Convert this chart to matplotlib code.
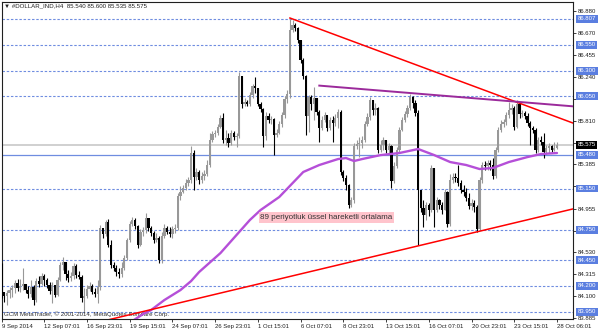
import matplotlib
matplotlib.use('Agg')
import matplotlib.pyplot as plt
from matplotlib.transforms import blended_transform_factory

plt.rcParams['font.family'] = ['Liberation Sans', 'DejaVu Sans']

# H4 bars, 9 Sep 2014 .. 28 Oct 2014
first_open = 84.277
closes = [84.141, 84.102, 84.131, 84.160, 84.180, 84.229, 84.180, 84.199, 84.219, 84.160,
          84.121, 84.190, 84.063, 84.248, 84.219, 84.297, 84.258, 84.209, 84.151, 84.209,
          84.112, 84.258, 84.404, 84.433, 84.316, 84.277, 84.297, 84.394, 84.307, 84.287,
          84.082, 84.102, 84.170, 84.199, 84.141, 84.121, 84.190, 84.765, 84.706, 84.823,
          84.599, 84.404, 84.375, 84.336, 84.316, 84.375, 84.472, 84.648, 84.804, 84.843,
          84.784, 84.599, 84.726, 84.745, 84.862, 84.765, 84.716, 84.648, 84.667, 84.453,
          84.687, 84.765, 84.726, 84.706, 84.755, 84.765, 85.077, 85.116, 85.155, 85.203,
          85.233, 85.496, 85.262, 85.311, 85.233, 85.272, 85.291, 85.379, 85.622, 85.681,
          85.691, 85.749, 85.837, 85.622, 85.642, 85.593, 85.691, 85.652, 85.661, 86.246,
          85.973, 85.993, 85.973, 86.061, 86.149, 86.129, 85.973, 85.925, 85.661, 85.856,
          85.817, 85.827, 85.671, 85.691, 85.778, 85.866, 86.022, 86.071, 86.695, 86.743,
          86.714, 86.597, 86.402, 86.246, 85.856, 86.042, 85.973, 86.032, 85.895, 85.739,
          85.817, 85.866, 85.739, 85.817, 85.788, 85.837, 85.895, 85.311, 85.252, 85.184,
          84.989, 85.038, 85.564, 85.583, 85.593, 85.622, 85.778, 85.847, 86.012, 85.915,
          85.934, 85.525, 85.574, 85.622, 85.525, 85.564, 85.223, 85.369, 85.525, 85.720,
          85.817, 85.876, 85.934, 86.042, 85.983, 85.886, 85.135, 84.960, 84.891, 84.989,
          84.940, 85.350, 84.940, 85.038, 84.989, 84.940, 85.116, 84.804, 85.233, 85.262,
          85.252, 85.203, 85.135, 85.116, 85.057, 84.979, 85.008, 84.969, 84.755, 85.233,
          85.379, 85.369, 85.398, 85.379, 85.272, 85.525, 85.720, 85.778, 85.798, 85.866,
          85.915, 85.934, 85.749, 85.973, 85.876, 85.886, 85.856, 85.788, 85.739, 85.720,
          85.525, 85.622, 85.603, 85.505, 85.544, 85.564, 85.525, 85.540, 85.575]
highs = [84.424, 84.141, 84.160, 84.190, 84.209, 84.258, 84.268, 84.268, 84.375, 84.219,
         84.199, 84.258, 84.209, 84.277, 84.297, 84.326, 84.316, 84.277, 84.238, 84.238,
         84.209, 84.287, 84.433, 84.482, 84.433, 84.355, 84.336, 84.424, 84.414, 84.346,
         84.307, 84.180, 84.209, 84.238, 84.219, 84.180, 84.258, 84.794, 84.745, 84.843,
         84.852, 84.648, 84.433, 84.404, 84.375, 84.433, 84.502, 84.667, 84.833, 84.872,
         84.862, 84.794, 84.755, 84.774, 84.911, 84.862, 84.784, 84.735, 84.716, 84.687,
         84.726, 84.804, 84.784, 84.774, 84.784, 84.804, 85.106, 85.174, 85.184, 85.242,
         85.262, 85.564, 85.525, 85.350, 85.330, 85.311, 85.330, 85.427, 85.691, 85.710,
         85.720, 85.778, 85.866, 85.886, 85.720, 85.691, 85.720, 85.710, 85.691, 86.285,
         86.246, 86.032, 86.012, 86.090, 86.168, 86.236, 86.129, 85.993, 85.934, 85.895,
         85.886, 85.856, 85.837, 85.730, 85.808, 85.895, 86.051, 86.110, 86.812, 86.792,
         86.763, 86.724, 86.597, 86.422, 86.256, 86.061, 86.061, 86.139, 86.032, 85.915,
         85.856, 85.895, 85.866, 85.847, 85.856, 85.876, 85.925, 85.915, 85.330, 85.281,
         85.194, 85.067, 85.593, 85.622, 85.652, 85.661, 85.808, 85.886, 86.042, 86.012,
         85.983, 85.944, 85.622, 85.652, 85.622, 85.593, 85.574, 85.408, 85.554, 85.749,
         85.847, 85.905, 85.964, 86.071, 86.051, 86.012, 85.915, 85.135, 85.038, 85.018,
         85.008, 85.379, 85.350, 85.067, 85.047, 85.018, 85.145, 85.125, 85.291, 85.301,
         85.301, 85.379, 85.233, 85.184, 85.155, 85.106, 85.047, 85.038, 84.989, 85.262,
         85.408, 85.418, 85.427, 85.427, 85.447, 85.554, 85.749, 85.817, 85.827, 85.895,
         85.993, 85.973, 85.954, 86.012, 85.983, 85.915, 85.905, 85.886, 85.808, 85.759,
         85.739, 85.652, 85.661, 85.691, 85.574, 85.593, 85.574, 85.603, 85.600]
lows = [84.082, 84.043, 84.014, 84.082, 84.092, 84.131, 84.151, 84.141, 84.160, 84.131,
        84.082, 84.092, 84.014, 84.043, 84.190, 84.209, 84.199, 84.180, 84.121, 84.034,
        84.092, 84.102, 84.248, 84.355, 84.258, 84.238, 84.248, 84.268, 84.277, 84.268,
        84.043, 83.936, 84.082, 84.151, 84.121, 84.092, 84.034, 84.160, 84.667, 84.687,
        84.580, 84.375, 84.346, 84.297, 84.277, 84.287, 84.355, 84.453, 84.628, 84.784,
        84.755, 84.570, 84.589, 84.687, 84.716, 84.735, 84.687, 84.618, 84.628, 84.424,
        84.424, 84.667, 84.706, 84.677, 84.667, 84.716, 84.745, 85.038, 85.106, 85.135,
        85.174, 85.203, 85.135, 85.233, 85.194, 85.203, 85.233, 85.272, 85.359, 85.603,
        85.652, 85.671, 85.739, 85.593, 85.574, 85.554, 85.574, 85.622, 85.554, 85.642,
        85.934, 85.954, 85.954, 85.954, 86.032, 86.081, 85.954, 85.895, 85.554, 85.622,
        85.788, 85.778, 85.476, 85.652, 85.681, 85.749, 85.837, 85.983, 86.032, 86.675,
        86.685, 86.568, 86.373, 86.217, 85.671, 85.700, 85.915, 85.817, 85.866, 85.603,
        85.720, 85.798, 85.710, 85.720, 85.603, 85.759, 85.739, 85.281, 85.223, 85.135,
        84.960, 84.969, 85.008, 85.535, 85.457, 85.544, 85.603, 85.759, 85.817, 85.866,
        85.866, 85.496, 85.505, 85.525, 85.496, 85.476, 85.155, 85.203, 85.350, 85.505,
        85.710, 85.798, 85.847, 85.915, 85.934, 85.856, 84.599, 84.921, 84.774, 84.843,
        84.882, 84.921, 84.774, 84.921, 84.950, 84.901, 84.940, 84.774, 84.784, 85.203,
        85.213, 85.174, 85.106, 85.077, 85.028, 84.950, 84.940, 84.921, 84.726, 84.745,
        85.203, 85.330, 85.330, 85.330, 85.242, 85.252, 85.505, 85.700, 85.749, 85.769,
        85.837, 85.876, 85.720, 85.739, 85.837, 85.847, 85.827, 85.759, 85.574, 85.691,
        85.496, 85.505, 85.574, 85.447, 85.486, 85.496, 85.505, 85.515, 85.535]

# 89 period EMA, read at a few bars
ema_bars = [49, 53, 56, 61, 67, 71, 74, 82, 89, 93, 97, 104, 113, 119, 126,
            129, 132, 135, 142, 149, 156, 162, 168, 174, 179, 184, 190, 197, 202, 208]
ema_vals = [83.858, 83.926, 83.965, 84.063, 84.160, 84.248, 84.336, 84.521, 84.726, 84.843,
            84.940, 85.067, 85.311, 85.379, 85.437, 85.447, 85.418, 85.437, 85.476, 85.496,
            85.535, 85.476, 85.408, 85.379, 85.340, 85.350, 85.408, 85.457, 85.486, 85.496]

# trend lines (bar, price) end points
upper_red = ([108, 214], [86.812, 85.788])
lower_red = ([35, 214], [83.839, 84.951])
purple_tl = ([119, 214], [86.153, 85.951])

dashed_levels = [86.807, 86.550, 86.300, 86.050, 85.150, 84.750, 84.450, 84.200, 83.950]
solid_level = 85.480
bid_level = 85.575

tick_prices = [86.880, 86.670, 86.455, 86.240, 86.025, 85.810, 85.595, 85.385,
               85.170, 84.955, 84.740, 84.530, 84.315, 84.100, 83.885]
# scale labels that sit under a price box are not visible
hidden_ticks = [86.025, 85.595, 85.170, 84.740]
date_labels = ['9 Sep 2014', '12 Sep 07:01', '16 Sep 23:01', '19 Sep 15:01', '24 Sep 07:01',
               '26 Sep 23:01', '1 Oct 15:01', '6 Oct 07:01', '8 Oct 23:01', '13 Oct 15:01',
               '16 Oct 07:01', '20 Oct 23:01', '23 Oct 15:01', '28 Oct 06:01']

fig = plt.figure(figsize=(6, 3.33), dpi=100)
ax = fig.add_axes([1.5 / 600, 14 / 333, 571.5 / 600, 317 / 333])
ax.set_xlim(0.19, 214.0)
ax.set_ylim(83.878, 86.968)

# level lines
for lv in dashed_levels:
    ax.axhline(lv, color='#6f8de0', lw=0.8, ls=(0, (2.2, 1.6)), zorder=1)
ax.axhline(solid_level, color='#6f8de0', lw=0.9, zorder=1)
ax.axhline(bid_level, color='#c8c8c8', lw=1.2, zorder=1)

# candles
opens = [first_open] + closes[:-1]
for i in range(len(closes)):
    o, c, h, l = opens[i], closes[i], highs[i], lows[i]
    col = '#989898' if c >= o else '#000000'
    ax.vlines(i, l, h, color=col, lw=0.8, zorder=3)
    ax.bar(i, max(abs(c - o), 0.005), bottom=min(o, c), width=0.85,
           color=col, edgecolor='none', zorder=3)

ax.plot(ema_bars, ema_vals, color='#b54fd8', lw=1.7, zorder=4, solid_capstyle='round')
ax.plot(*upper_red, color='#ff0000', lw=1.1, zorder=5)
ax.plot(*lower_red, color='#ff0000', lw=1.1, zorder=5)
ax.plot(*purple_tl, color='#9b2a9b', lw=1.4, zorder=5)

ax.text(96.9, 84.867, '89 periyotluk \u00fcssel hareketli ortalama', fontsize=5.8,
        color='#333333', va='center', ha='left', zorder=6,
        bbox=dict(boxstyle='square,pad=0.2', fc='#ffc4cc', ec='none'))

# axes look
for s in ax.spines.values():
    s.set_color('#202020')
    s.set_linewidth(0.8)
ax.yaxis.tick_right()
ax.set_yticks(tick_prices)
ax.set_yticklabels(['' if p in hidden_ticks else '%.3f' % p for p in tick_prices])
ax.tick_params(axis='y', labelsize=4.3, length=2, width=0.6, pad=1.5, colors='#202020')
ax.set_xticks([16 * k for k in range(len(date_labels))])
ax.set_xticklabels(date_labels)
ax.tick_params(axis='x', labelsize=4.3, length=2, width=0.6, pad=1.8, colors='#202020')
for lbl in ax.get_xticklabels():
    lbl.set_ha('left')

# price boxes on the right scale
tr = blended_transform_factory(ax.transAxes, ax.transData)
for lv in dashed_levels + [solid_level]:
    ax.text(1.0085, lv, '%.3f' % lv, transform=tr, fontsize=4.3, color='white',
            va='center', ha='left', clip_on=False, zorder=10,
            bbox=dict(boxstyle='square,pad=0.25', fc='#5a7ee0', ec='none'))
ax.text(1.0085, bid_level, '%.3f' % bid_level, transform=tr, fontsize=4.3, color='white',
        va='center', ha='left', clip_on=False, zorder=10,
        bbox=dict(boxstyle='square,pad=0.25', fc='#000000', ec='none'))

ax.text(0.004, 0.988, '\u25bc #DOLLAR_IND,H4  85.540 85.600 85.535 85.575',
        transform=ax.transAxes, fontsize=4.4, color='#202020', va='center', ha='left')
ax.text(0.004, 0.007, 'GCM MetaTrader, \u00a9 2001-2014, MetaQuotes Software Corp.',
        transform=ax.transAxes, fontsize=4.4, color='#303030', va='bottom', ha='left')

fig.savefig('out.png', dpi=100)
